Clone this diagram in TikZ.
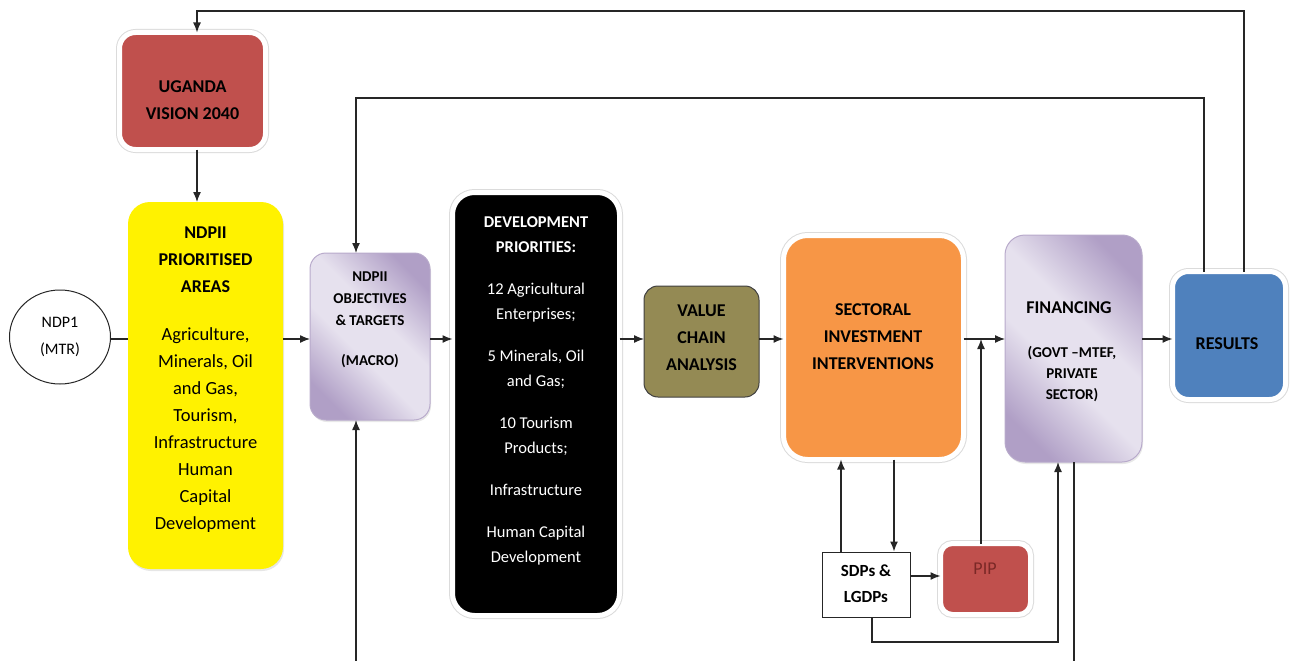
\documentclass[tikz,border=0pt]{standalone}
\usepackage{fontspec}
\setmainfont{Carlito}
\usetikzlibrary{arrows.meta,shapes.geometric,shadows}
\definecolor{ored}{HTML}{C0504D}
\definecolor{oorange}{HTML}{F79646}
\definecolor{oblue}{HTML}{4F81BD}
\definecolor{oolive}{HTML}{948A54}
\definecolor{lavD}{HTML}{B09FC6}
\definecolor{lavL}{HTML}{E6E1EE}
\definecolor{lavE}{HTML}{B8AACB}
\definecolor{lc}{HTML}{262626}
\definecolor{piptext}{HTML}{7A2826}
\pgfdeclarehorizontalshading{lavsh}{100bp}{color(0bp)=(lavD); color(24bp)=(lavD); color(43bp)=(lavL); color(57bp)=(lavL); color(76bp)=(lavD); color(100bp)=(lavD)}
\begin{document}
\begin{tikzpicture}[x=1pt,y=-1pt,
  ln/.style={draw=lc, line width=1.3pt},
  arr/.style={ln, -{Latex[length=10pt,width=8pt]}},
  box/.style={rectangle, rounded corners=#1, inner sep=0pt, outer sep=0pt},
  box/.default=15pt,
  wb/.style={draw=white, line width=5pt, preaction={draw=black!14, line width=7pt},
    drop shadow={shadow xshift=1.5pt, shadow yshift=-2pt, opacity=0.12}},
  lavbox/.style={shade, shading=lavsh, shading angle=45, draw=lavE, line width=1pt,
    drop shadow={shadow xshift=1pt, shadow yshift=-2pt, opacity=0.18}},
  txt/.style={align=center, inner sep=0pt},
  hbig/.style={txt, font=\fontsize{18}{27}\selectfont\bfseries},
]
\useasboundingbox (0,0) rectangle (1296,661);

% ---------- boxes ----------
\node[box=16pt, wb, fill=ored, minimum width=146pt, minimum height=117pt] (ug) at (192.5,91) {};
\node[hbig] (ugT) at (192.5,100) {UGANDA\\VISION 2040};

\node[box=22pt, fill=yellow, drop shadow={shadow xshift=1pt, shadow yshift=-2pt, opacity=0.2},
  minimum width=155pt, minimum height=367pt] (yel) at (205.5,385.5) {};
\node[hbig] (yelT1) at (205.5,260) {NDPII\\PRIORITISED\\AREAS};
\node[txt, font=\fontsize{18.5}{27}\selectfont] (yelT2) at (205.5,430)
  {Agriculture,\\Minerals, Oil\\and Gas,\\Tourism,\\Infrastructure\\Human\\Capital\\Development};

\node[ellipse, draw=lc, line width=1pt, minimum width=101pt, minimum height=94pt, inner sep=0pt] (ndp) at (60,337) {};
\node[txt, font=\fontsize{16}{27}\selectfont] (ndpT) at (60,337) {NDP1\\(MTR)};

\node[box=16pt, lavbox, minimum width=120pt, minimum height=167pt] (obj) at (370,336.5) {};
\node[txt, font=\fontsize{15}{22}\selectfont\bfseries] (objT1) at (370,299) {NDPII\\OBJECTIVES\\\& TARGETS};
\node[txt, font=\fontsize{15}{22}\selectfont\bfseries] (objT2) at (370,361) {(MACRO)};

\node[box=22pt, wb, fill=black, minimum width=167pt, minimum height=423pt] (dev) at (536,404) {};
\node[txt, text=white, font=\fontsize{16.5}{25}\selectfont] (devT) at (536,391)
  {\textbf{DEVELOPMENT}\\\textbf{PRIORITIES:}\\[17pt]12 Agricultural\\Enterprises;\\[17pt]5 Minerals, Oil\\and Gas;\\[17pt]10 Tourism\\Products;\\[17pt]Infrastructure\\[17pt]Human Capital\\Development};

\node[box=14pt, fill=oolive, draw=black!75, line width=1pt, minimum width=115pt, minimum height=111pt] (vc) at (701.5,341.5) {};
\node[hbig] (vcT) at (701.5,337.5) {VALUE\\CHAIN\\ANALYSIS};

\node[box=24pt, wb, fill=oorange, minimum width=180pt, minimum height=224pt] (sec) at (873.5,347.5) {};
\node[hbig] (secT) at (873,337) {SECTORAL\\INVESTMENT\\INTERVENTIONS};

\node[box=20pt, lavbox, minimum width=137pt, minimum height=227pt] (fin) at (1073.5,348.5) {};
\node[hbig] (finT1) at (1069,308) {FINANCING};
\node[txt, font=\fontsize{15}{21}\selectfont\bfseries] (finT2) at (1072,374) {(GOVT –MTEF,\\PRIVATE\\SECTOR)};

\node[box=16pt, wb, fill=oblue, minimum width=113pt, minimum height=128pt] (res) at (1229,335.5) {};
\node[hbig] (resT) at (1227,344) {RESULTS};

\node[rectangle, draw=lc, line width=1pt, fill=white, minimum width=88pt, minimum height=65pt, inner sep=0pt] (sdp) at (866,584.5) {};
\node[txt, font=\fontsize{17}{26}\selectfont\bfseries] (sdpT) at (866,584) {SDPs \&\\LGDPs};

\node[box=12pt, wb, fill=ored, minimum width=90pt, minimum height=71pt] (pip) at (985.5,579) {};
\node[txt, text=piptext, font=\fontsize{18}{22}\selectfont] (pipT) at (985,569) {PIP};

% ---------- helper coordinates ----------
\coordinate (xa) at (197,0);
\coordinate (xb) at (356,0);
\coordinate (xc) at (1204,0);
\coordinate (xd) at (1244,0);
\coordinate (xp) at (981,0);
\coordinate (xs1) at (841,0);
\coordinate (xs2) at (894,0);
\coordinate (xs3) at (872,0);
\coordinate (xf) at (1058,0);
\coordinate (ya) at (0,339);
\coordinate (yq) at (0,576);
\coordinate (yb) at (0,642);
\coordinate (yt1) at (0,11);
\coordinate (yt2) at (0,98);
\coordinate (bot1) at (356,661);
\coordinate (bot2) at (1074,661);

% ---------- connectors ----------
\draw[arr] (res.north -| xd) -- (yt1 -| xd) -- (yt1 -| xa) -- (ug.north -| xa);
\draw[arr] (ug.south -| xa) -- (yel.north -| xa);
\draw[arr] (res.north -| xc) -- (yt2 -| xc) -- (yt2 -| xb) -- (obj.north -| xb);
\draw[arr] (bot1) -- (obj.south -| bot1);
\draw[ln] (ndp.east |- ya) -- (yel.west |- ya);
\draw[arr] (yel.east |- ya) -- (obj.west |- ya);
\draw[arr] (obj.east |- ya) -- (dev.west |- ya);
\draw[arr] (dev.east |- ya) -- (vc.west |- ya);
\draw[arr] (vc.east |- ya) -- (sec.west |- ya);
\draw[arr] (sec.east |- ya) -- (fin.west |- ya);
\draw[arr] (fin.east |- ya) -- (res.west |- ya);
\draw[arr] (pip.north -| xp) -- (ya -| xp);
\draw[arr] (sdp.north -| xs1) -- (sec.south -| xs1);
\draw[arr] (sec.south -| xs2) -- (sdp.north -| xs2);
\draw[arr] (sdp.east |- yq) -- (pip.west |- yq);
\draw[arr] (sdp.south -| xs3) -- (yb -| xs3) -- (yb -| xf) -- (fin.south -| xf);
\draw[ln] (fin.south -| bot2) -- (bot2);
\end{tikzpicture}
\end{document}
